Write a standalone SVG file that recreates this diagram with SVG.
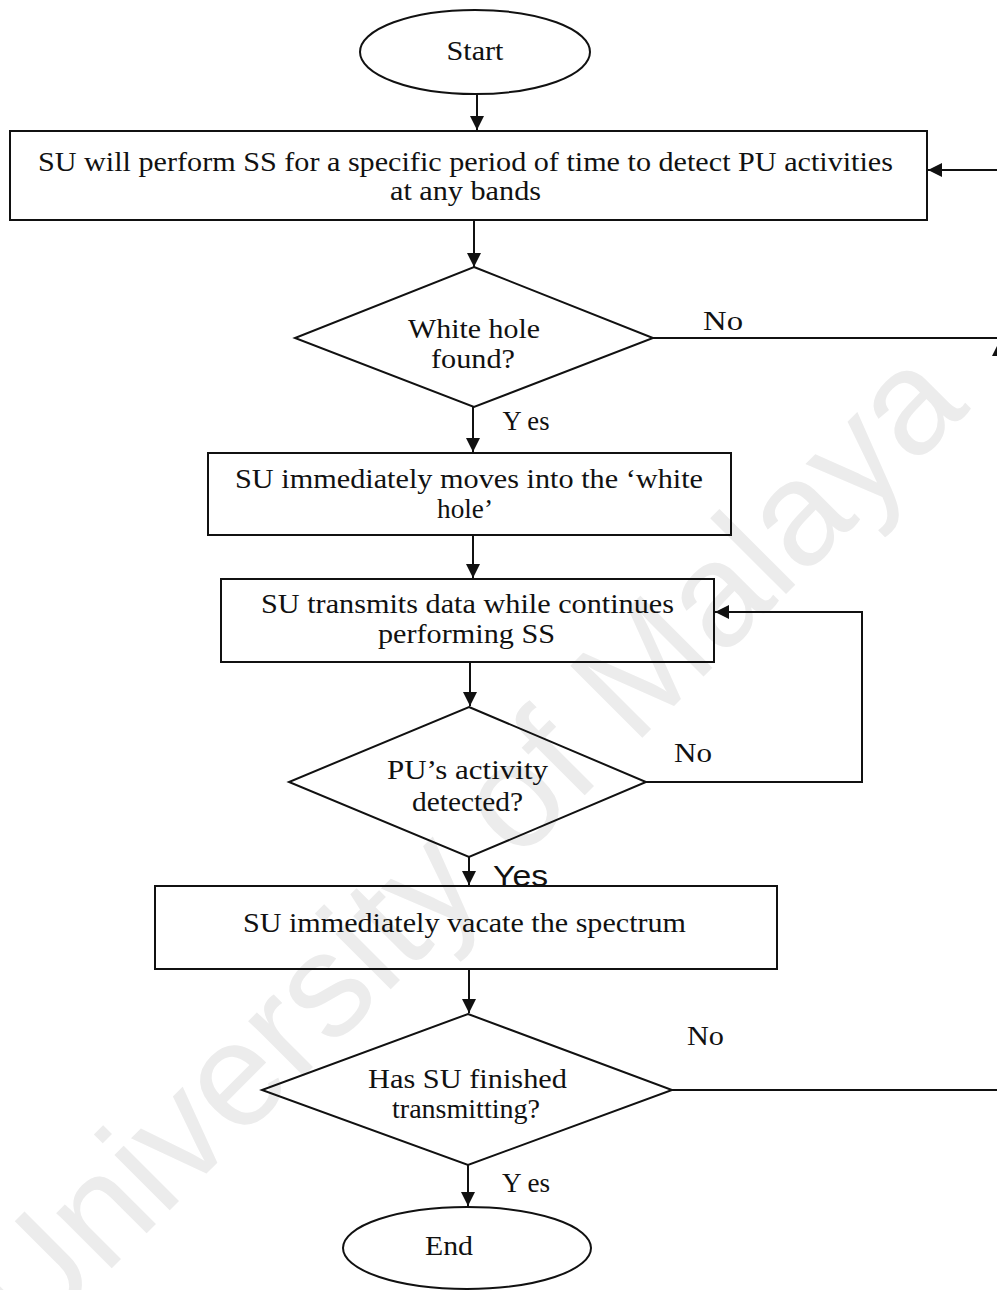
<svg xmlns="http://www.w3.org/2000/svg" width="997" height="1290" viewBox="0 0 997 1290">
<style>
.shape{fill:none;stroke:#111;stroke-width:2}
.line{fill:none;stroke:#111;stroke-width:2}
.t{font-family:"Liberation Serif","Times New Roman",serif;font-size:28px;fill:#111;text-anchor:middle}
.s{font-family:"Liberation Sans",Arial,sans-serif;font-size:30px;fill:#111;text-anchor:middle}
.wm{font-family:"Liberation Sans",Arial,sans-serif;font-size:148px;fill:#ececec;text-anchor:middle}
</style>
<defs>
<marker id="arr" markerUnits="userSpaceOnUse" markerWidth="14" markerHeight="16" refX="14" refY="7" orient="auto">
<path d="M0,0 L14,7 L0,14 Z" fill="#111"/>
</marker>
</defs>
<rect width="997" height="1290" fill="#fff"/>
<g id="watermark">
<text class="wm" x="500" y="880" transform="rotate(-45 500 880)">University of Malaya</text>
</g>
<g id="connectors">
<line class="line" x1="477" y1="94" x2="477" y2="130" marker-end="url(#arr)"/>
<line class="line" x1="474" y1="221" x2="474" y2="267" marker-end="url(#arr)"/>
<line class="line" x1="473" y1="407" x2="473" y2="452" marker-end="url(#arr)"/>
<line class="line" x1="473" y1="536" x2="473" y2="578" marker-end="url(#arr)"/>
<line class="line" x1="470" y1="663" x2="470" y2="706" marker-end="url(#arr)"/>
<line class="line" x1="469" y1="857" x2="469" y2="885" marker-end="url(#arr)"/>
<line class="line" x1="469" y1="970" x2="469" y2="1013" marker-end="url(#arr)"/>
<line class="line" x1="468" y1="1165" x2="468" y2="1206" marker-end="url(#arr)"/>
<polyline class="line" points="646,782 862,782 862,612 715,612" marker-end="url(#arr)"/>
<line class="line" x1="653" y1="338" x2="1000" y2="338"/>
<polyline class="line" points="672,1090 999,1090 999,342" marker-end="url(#arr)"/>
<polyline class="line" points="999,338 999,170 928,170" marker-end="url(#arr)"/>
</g>
<g id="start">
<ellipse class="shape" cx="475" cy="52" rx="115" ry="42"/>
<text class="t" x="475" y="60" textLength="57" lengthAdjust="spacingAndGlyphs">Start</text>
</g>
<g id="sense">
<rect class="shape" x="10" y="131" width="917" height="89"/>
<text class="t" x="465.5" y="171" textLength="855" lengthAdjust="spacingAndGlyphs">SU will perform SS for a specific period of time to detect PU activities</text>
<text class="t" x="465.5" y="200" textLength="151" lengthAdjust="spacingAndGlyphs">at any bands</text>
</g>
<g id="white-hole">
<polygon class="shape" points="474,267 653,338 474,407 295,338"/>
<text class="t" x="474" y="338" textLength="132" lengthAdjust="spacingAndGlyphs">White hole</text>
<text class="t" x="473" y="368" textLength="84" lengthAdjust="spacingAndGlyphs">found?</text>
<text class="t" x="723" y="330" textLength="40" lengthAdjust="spacingAndGlyphs">No</text>
<text class="t" x="526" y="430" textLength="47" lengthAdjust="spacingAndGlyphs">Y es</text>
</g>
<g id="move">
<rect class="shape" x="208" y="453" width="523" height="82"/>
<text class="t" x="469" y="488" textLength="468" lengthAdjust="spacingAndGlyphs">SU immediately moves into the ‘white</text>
<text class="t" x="465" y="518" textLength="56" lengthAdjust="spacingAndGlyphs">hole’</text>
</g>
<g id="transmit">
<rect class="shape" x="221" y="579" width="493" height="83"/>
<text class="t" x="467.5" y="613" textLength="413" lengthAdjust="spacingAndGlyphs">SU transmits data while continues</text>
<text class="t" x="466.5" y="643" textLength="177" lengthAdjust="spacingAndGlyphs">performing SS</text>
</g>
<g id="pu-detected">
<polygon class="shape" points="469,707 646,782 469,857 289,782"/>
<text class="t" x="467.5" y="779" textLength="161" lengthAdjust="spacingAndGlyphs">PU’s activity</text>
<text class="t" x="467.5" y="811" textLength="111" lengthAdjust="spacingAndGlyphs">detected?</text>
<text class="t" x="693" y="762" textLength="38" lengthAdjust="spacingAndGlyphs">No</text>
<text class="s" x="520.5" y="886" textLength="55" lengthAdjust="spacingAndGlyphs">Yes</text>
</g>
<g id="vacate">
<rect class="shape" x="155" y="886" width="622" height="83"/>
<text class="t" x="464.5" y="932" textLength="443" lengthAdjust="spacingAndGlyphs">SU immediately vacate the spectrum</text>
</g>
<g id="finished">
<polygon class="shape" points="468,1014 672,1090 468,1165 262,1090"/>
<text class="t" x="467.5" y="1088" textLength="199" lengthAdjust="spacingAndGlyphs">Has SU finished</text>
<text class="t" x="466" y="1118" textLength="148" lengthAdjust="spacingAndGlyphs">transmitting?</text>
<text class="t" x="705.5" y="1045" textLength="37" lengthAdjust="spacingAndGlyphs">No</text>
<text class="t" x="526" y="1192" textLength="48" lengthAdjust="spacingAndGlyphs">Y es</text>
</g>
<g id="end">
<ellipse class="shape" cx="467" cy="1248" rx="124" ry="41"/>
<text class="t" x="449" y="1255" textLength="48" lengthAdjust="spacingAndGlyphs">End</text>
</g>
</svg>
